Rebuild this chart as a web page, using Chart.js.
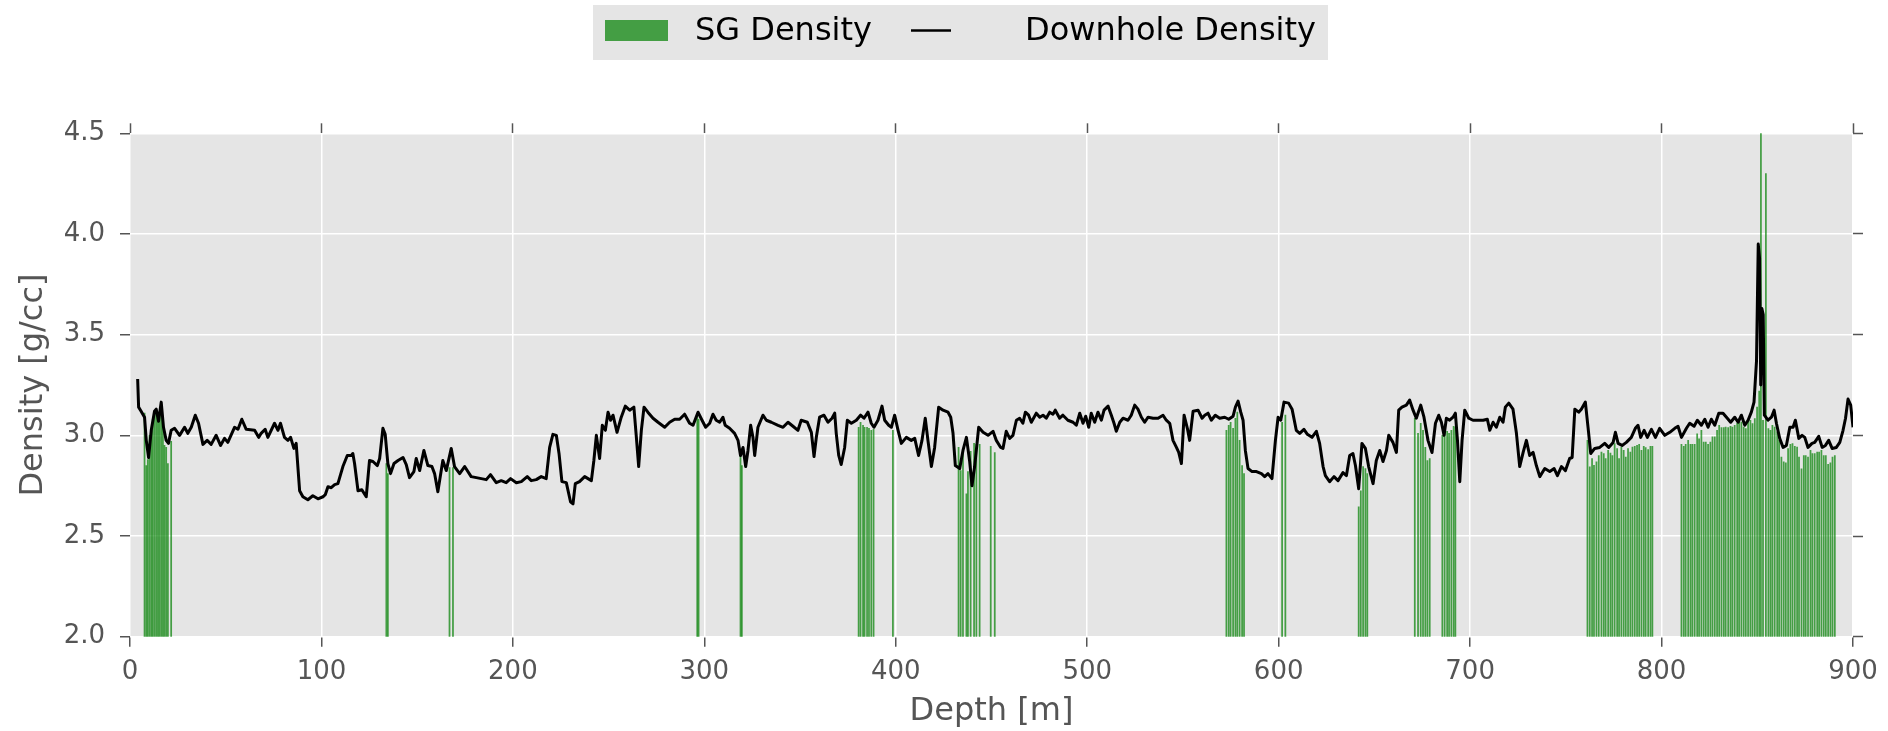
<!DOCTYPE html>
<html>
<head>
<meta charset="utf-8">
<title>SG Density vs Downhole Density</title>
<script src="https://cdn.jsdelivr.net/npm/chart.js@4.4.1/dist/chart.umd.min.js"></script>
<style>
  html, body { margin: 0; padding: 0; background: #ffffff; }
  #chartDensity { display: block; }
</style>
</head>
<body>
<canvas id="chartDensity" width="1888" height="731"></canvas>
<script>
// Downhole density log (depth in m, density in g/cc)
const downholeDepth = [
    4, 4.5, 5.8, 7.6, 8.5, 9.7, 11.1, 12.8, 13.7, 14.9, 16.3, 17.5, 18.9, 20.1, 21.5, 23.3, 25.9, 28.5, 30.2, 32.0,
    34.1, 35.8, 38.1, 40.3, 42.4, 45.0, 47.3, 49.4, 51.1, 54.6, 56.4, 58.4, 60.7, 65.1, 67.2, 68.5, 70.6, 72.0, 75.5, 77.3,
    78.6, 80.7, 82.5, 83.9, 85.6, 86.8, 88.6, 90.3, 92.9, 95.5, 98.2, 100.8, 102.0, 103.4, 105.1, 106.9, 108.6, 111.2, 113.5, 115.6,
    116.4, 117.3, 119.1, 121.1, 123.4, 125.1, 126.9, 129.2, 130.4, 132.1, 133.3, 134.7, 136.1, 137.9, 140.0, 142.6, 144.3, 146.0, 148.3,
    149.5, 151.3, 153.5, 155.6, 157.7, 159.1, 160.8, 163.4, 165.2, 167.8, 169.5, 172.2, 174.8, 178.2, 180.9, 183.5, 186.1, 188.3, 191.3, 193.9,
    196.5, 198.8, 201.8, 204.4, 207.5, 209.6, 212.2, 214.8, 217.4, 219.2, 220.9, 222.7, 224.1, 225.6, 227.9, 230.1, 231.4, 232.6, 234.8, 237.5,
    241.0, 242.3, 243.6, 245.3, 246.7, 248.3, 249.7, 251.0, 252.3, 254.4, 256.6, 258.7, 261.0, 263.2, 264.5, 265.7, 267.1, 268.5, 270.5, 273.2,
    275.8, 279.3, 281.9, 284.5, 287.1, 289.7, 292.3, 294.1, 296.7, 298.8, 300.7, 302.8,
    304.5, 306.2, 308.0, 309.7, 310.9, 313.2, 315.8, 317.6, 318.9, 320.2, 321.6, 322.8, 324.2, 325.4, 326.3, 328.0, 330.6, 332.4, 335.0, 338.5,
    341.1, 343.7, 346.3, 348.9, 350.6, 353.8, 355.9, 357.3, 358.5, 360.2, 362.5, 364.6, 366.7, 368.1, 368.9, 370.2, 371.5, 373.3, 374.7, 376.8,
    379.4, 381.6, 383.4, 385.5, 387.2, 388.6, 390.7, 392.8, 394.2, 396.3, 397.7, 399.4, 401.2, 402.9, 405.5, 408.1, 409.9, 411.9, 413.7, 415.4,
    416.8, 418.6, 420.3, 422.4, 424.7, 427.3, 428.7, 429.9, 431.1, 433.4, 435.1, 436.9, 438.6, 439.8, 441.2, 443.3, 445.6, 448.2, 450.8, 452.5, 454.8,
    456.0, 457.7, 459.5, 461.2, 463.0, 464.7, 466.4, 467.7, 469.4, 470.8, 473.4, 475.2, 476.9, 478.6, 480.4, 482.1, 483.3, 485.6, 487.3, 489.9,
    492.6, 494.3, 496.1, 497.8, 499.2, 500.8, 502.1, 503.9, 505.6, 507.4, 508.8, 510.9, 512.6, 514.0, 515.2, 517.0, 518.7, 521.3, 523.0, 524.8,
    526.5, 528.3, 530.0, 531.8, 534.4, 537.0, 539.6, 541.3, 543.1, 544.8, 546.6, 547.8, 549.2, 550.6, 552.3, 553.5, 555.3, 557.9, 560.0, 561.4,
    563.1, 564.8, 566.9, 569.2, 571.8, 573.9, 576.2, 577.4, 578.8, 580.2, 581.4, 582.6, 584.0, 586.1, 588.4, 591.0, 592.7, 594.4, 596.5, 598.3,
    599.7, 601.1, 602.8,
    605.2, 607.0, 609.2, 611.0, 613.2, 615.0, 617.4, 619.7, 621.4, 623.2, 624.4, 626.6, 628.9, 631.0, 633.6, 635.4, 637.1, 638.8, 640.1, 641.8,
    643.5, 645.3, 647.0, 649.3, 651.0, 652.8, 654.5, 656.3, 657.5, 659.7, 661.5, 662.7, 664.4, 666.7, 668.4, 670.2, 671.9, 674.2, 675.9, 678.0,
    680.1, 681.9, 683.6, 685.0, 686.4, 687.6, 689.3, 691.1, 692.3, 693.4, 694.6, 695.8, 697.2, 699.3, 701.5, 704.2, 706.8, 709.0, 710.3, 712.0,
    713.7, 715.5, 717.2, 718.4, 720.2, 722.4, 724.2, 725.9, 727.7, 729.4, 731.1, 732.9, 734.6, 736.4, 739.0, 741.6, 743.9, 745.6, 747.7, 749.8,
    752.0, 753.3, 754.7, 756.7,
    758.1, 760.2, 761.6, 763.0, 765.1, 767.7, 770.3, 772.4, 774.7, 775.9, 777.3, 779.4, 781.6, 784.2, 786.3, 787.7, 789.1, 790.9, 792.6, 794.7,
    796.8, 799.0, 801.7, 804.3, 806.9, 808.6, 810.4, 813.0, 814.7, 817.0, 818.7, 820.8, 822.6, 824.3, 826.0, 827.8, 829.9, 832.1, 833.9, 836.1,
    838.2, 840.0, 841.7, 843.5, 845.2, 846.9, 848.3, 849.6, 850.5, 851.2, 851.8, 852.4, 853.1, 853.7, 855.6, 857.4, 858.8, 860.0, 861.7, 863.5,
    865.2, 867.0, 868.7, 869.9, 871.7, 873.4, 874.8, 876.5, 878.6, 880.0, 882.1, 883.9, 885.6, 887.3, 889.1, 891.3, 893.1, 894.8, 896.1, 897.4,
    898.8, 900
];
const downholeDensity = [
    3.28, 3.14, 3.12, 3.09, 2.975, 2.89, 3.025, 3.12, 3.13, 3.07, 3.165, 3.04, 2.975, 2.96, 3.025, 3.035, 3.0, 3.04, 3.01, 3.04,
    3.10, 3.06, 2.955, 2.975, 2.955, 3.0, 2.95, 2.985, 2.965, 3.04, 3.03, 3.08, 3.03, 3.025, 2.99, 3.01, 3.03, 2.99, 3.06, 3.025,
    3.06, 2.99, 2.975, 2.99, 2.935, 2.96, 2.725, 2.695, 2.68, 2.70, 2.685, 2.695, 2.705, 2.745, 2.74, 2.755, 2.76, 2.845, 2.90, 2.90,
    2.91, 2.86, 2.725, 2.73, 2.695, 2.875, 2.87, 2.85, 2.885, 3.035, 3.005, 2.86, 2.81, 2.86, 2.875, 2.89, 2.855, 2.79, 2.82,
    2.885, 2.825, 2.925, 2.85, 2.845, 2.81, 2.72, 2.875, 2.825, 2.935, 2.845, 2.81, 2.845, 2.795, 2.79, 2.785, 2.78, 2.805, 2.765, 2.775,
    2.765, 2.785, 2.765, 2.77, 2.795, 2.775, 2.78, 2.795, 2.785, 2.94, 3.005, 3.0, 2.91, 2.77, 2.765, 2.67, 2.66, 2.76, 2.77, 2.795,
    2.775, 2.875, 3.0, 2.885, 3.05, 3.025, 3.115, 3.075, 3.10, 3.015, 3.09, 3.145, 3.125, 3.14, 2.99, 2.845, 3.025, 3.14, 3.115, 3.085,
    3.065, 3.04, 3.065, 3.08, 3.08, 3.105, 3.06, 3.05, 3.115, 3.075, 3.04, 3.06,
    3.105, 3.075, 3.065, 3.09, 3.05, 3.035, 3.01, 2.975, 2.90, 2.94, 2.845, 2.925, 3.05, 2.99, 2.90, 3.04, 3.10, 3.075, 3.065, 3.05,
    3.04, 3.065, 3.045, 3.025, 3.075, 3.065, 3.015, 2.895, 2.99, 3.09, 3.10, 3.065, 3.085, 3.11, 3.01, 2.90, 2.855, 2.94, 3.075, 3.06,
    3.075, 3.10, 3.085, 3.115, 3.06, 3.04, 3.075, 3.145, 3.075, 3.05, 3.04, 3.10, 3.025, 2.96, 2.99, 2.975, 2.985, 2.90, 2.975, 3.085,
    2.975, 2.845, 2.94, 3.14, 3.125, 3.115, 3.09, 3.01, 2.85, 2.835, 2.925, 2.99, 2.87, 2.75, 2.845, 3.04, 3.015, 3.0, 3.02, 2.975, 2.94,
    2.935, 3.02, 2.985, 3.0, 3.075, 3.085, 3.06, 3.115, 3.10, 3.065, 3.11, 3.09, 3.10, 3.085, 3.115, 3.105, 3.125, 3.085, 3.10, 3.075,
    3.065, 3.05, 3.11, 3.06, 3.095, 3.04, 3.11, 3.065, 3.115, 3.075, 3.125, 3.145, 3.10, 3.06, 3.02, 3.065, 3.085, 3.075, 3.10, 3.15,
    3.13, 3.09, 3.065, 3.09, 3.085, 3.085, 3.10, 3.075, 3.06, 2.975, 2.94, 2.915, 2.86, 3.10, 3.035, 2.975, 3.12, 3.125, 3.085, 3.10,
    3.11, 3.075, 3.10, 3.085, 3.09, 3.08, 3.095, 3.14, 3.17, 3.115, 3.075, 2.925, 2.835, 2.82, 2.82, 2.81, 2.795, 2.81, 2.785, 2.975,
    3.09, 3.075, 3.165,
    3.16, 3.13, 3.025, 3.01, 3.03, 3.005, 2.99, 3.02, 2.96, 2.845, 2.80, 2.77, 2.795, 2.775, 2.815, 2.80, 2.90, 2.91, 2.85, 2.735,
    2.96, 2.935, 2.845, 2.76, 2.875, 2.925, 2.87, 2.925, 3.0, 2.965, 2.915, 3.125, 3.14, 3.15, 3.175, 3.125, 3.085, 3.15, 3.09, 2.975,
    2.915, 3.06, 3.10, 3.065, 3.0, 3.085, 3.075, 3.09, 3.11, 2.975, 2.77, 2.975, 3.125, 3.085, 3.075, 3.075, 3.075, 3.08, 3.025, 3.065,
    3.04, 3.09, 3.065, 3.14, 3.16, 3.13, 3.01, 2.845, 2.915, 2.975, 2.90, 2.915, 2.85, 2.795, 2.835, 2.82, 2.835, 2.80, 2.845, 2.825,
    2.885, 2.89, 3.13, 3.115,
    3.13, 3.165, 3.04, 2.91, 2.935, 2.94, 2.96, 2.94, 2.965, 3.015, 2.96, 2.95, 2.965, 2.99, 3.035, 3.05, 2.99, 3.025, 2.99, 3.03,
    2.99, 3.035, 3.0, 3.015, 3.035, 3.045, 2.99, 3.035, 3.06, 3.045, 3.075, 3.05, 3.08, 3.04, 3.08, 3.05, 3.11, 3.11, 3.09, 3.065,
    3.09, 3.065, 3.10, 3.05, 3.075, 3.115, 3.165, 3.37, 3.95, 3.88, 3.25, 3.63, 3.60, 3.10, 3.075, 3.09, 3.125, 3.06, 2.985, 2.94,
    2.95, 3.04, 3.04, 3.075, 2.985, 3.0, 2.99, 2.94, 2.96, 2.965, 2.995, 2.94, 2.95, 2.975, 2.935, 2.94, 2.965, 3.025, 3.085, 3.18,
    3.15, 3.04
];

// SG (specific gravity) samples
const sgDepth = [
    7.6, 8.5, 9.3, 10.2, 11.1, 11.9, 12.8, 13.7, 14.6, 15.4, 16.3, 17.2, 18.0, 18.9, 19.8, 21.5,
    133.9, 134.7, 166.9, 168.7, 296.3, 297.0, 318.9, 319.6,
    380.6, 381.6, 382.9, 383.7, 385.0, 386.0, 387.2, 388.4, 398.5,
    432.8, 433.9, 435.1, 436.9, 437.7, 439.1, 440.9, 442.1, 443.8, 449.6, 451.7,
    572.7, 573.9, 574.9, 576.2, 577.4, 578.4, 579.6, 580.9, 581.9, 601.8, 603.5,
    641.8, 642.9, 644.1, 645.3, 646.3,
    671.1, 672.8, 674.2, 675.4, 676.6, 677.7, 678.9,
    685.5, 686.7, 688.0, 689.0, 690.2, 691.4, 692.3,
    761.3, 762.5, 763.7, 764.7, 766.0, 767.2, 768.6, 769.8, 770.8, 772.1, 773.3, 774.3, 775.5, 776.8, 777.8,
    779.0, 780.2, 781.3, 782.5, 783.7, 784.8, 786.0, 787.2, 788.3, 789.5, 790.7, 791.7, 793.0, 794.2, 795.2,
    810.4, 811.6, 812.6, 813.9, 815.1, 816.1, 817.3, 818.6, 819.6, 820.8, 822.0, 823.1, 824.3, 825.5, 826.6,
    827.8, 829.0, 830.1, 831.3, 832.5, 833.5, 834.8, 836.0, 837.0, 838.2, 839.5, 840.5, 841.7, 842.9, 844.0,
    845.2, 846.4, 847.5, 848.7, 849.9, 851.0, 851.9, 853.0, 854.5, 855.8, 856.9, 857.9, 859.1, 860.4, 861.4,
    862.6, 863.8, 864.9, 866.1, 867.3, 868.4, 869.6, 870.8, 871.8, 873.1, 874.3, 875.3, 876.5, 877.8, 878.8,
    880.0, 881.3, 882.3, 883.5, 884.7, 885.8, 887.0, 888.2, 889.3, 890.5
];
const sgDensity = [
    3.11, 2.85, 2.88, 3.00, 3.02, 3.08, 3.10, 3.12, 3.07, 3.10, 3.12, 3.05, 2.95, 2.94, 2.86, 2.97,
    2.86, 2.81, 2.84, 2.84, 3.10, 3.08, 2.90, 2.85,
    3.04, 3.065, 3.05, 3.04, 3.04, 3.035, 3.025, 3.03, 3.025,
    2.94, 2.825, 2.925, 2.71, 2.82, 2.92, 2.96, 2.955, 2.955, 2.945, 2.915,
    3.025, 3.05, 3.065, 3.035, 3.085, 3.115, 2.975, 2.85, 2.81, 3.065, 3.10,
    2.645, 2.725, 2.845, 2.835, 2.81,
    3.085, 3.01, 3.06, 3.025, 2.94, 2.875, 2.885,
    3.0, 3.035, 3.02, 3.01, 3.025, 3.045, 3.04,
    2.975, 2.843, 2.884, 2.851, 2.868, 2.90, 2.917, 2.909, 2.884, 2.925, 2.912, 2.90, 2.959, 2.934, 2.884,
    2.942, 2.925, 2.892, 2.934, 2.917, 2.942, 2.945, 2.95, 2.955, 2.925, 2.945, 2.939, 2.929, 2.945, 2.945,
    2.955, 2.945, 2.955, 2.975, 2.955, 2.955, 2.955, 3.008, 2.983, 3.025, 2.967, 2.967, 2.955, 2.967, 2.992,
    2.992, 3.025, 3.05, 3.038, 3.038, 3.041, 3.038, 3.045, 3.041, 3.05, 3.061, 3.066, 3.066, 3.041, 3.033,
    3.075, 3.075, 3.058, 3.083, 3.14, 3.22, 4.5, 3.075, 4.3, 3.033, 3.025, 3.05, 3.041, 3.017, 2.975,
    2.892, 2.868, 2.863, 2.934, 2.955, 2.959, 2.945, 2.942, 2.892, 2.834, 2.90, 2.90, 2.892, 2.925, 2.909,
    2.909, 2.917, 2.917, 2.925, 2.90, 2.90, 2.856, 2.863, 2.892, 2.90
];

// Axis ticks
const depthTicks = [0, 100, 200, 300, 400, 500, 600, 700, 800, 900];
const densityTicks = [2.0, 2.5, 3.0, 3.5, 4.0, 4.5];

const tickGrey = '#555555';

// Grey panel behind the plot (ggplot look)
const plotBackground = {
    id: 'plotBackground',
    beforeDraw(chart) {
        const { ctx, chartArea } = chart;
        ctx.save();
        ctx.fillStyle = '#e5e5e5';
        ctx.fillRect(chartArea.left, chartArea.top, chartArea.right - chartArea.left, chartArea.bottom - chartArea.top);
        ctx.restore();
    }
};

// Legend drawn as a grey box above the plot
const topLegend = {
    id: 'topLegend',
    afterDraw(chart) {
        const ctx = chart.ctx;
        const sets = chart.data.datasets;
        ctx.save();
        ctx.fillStyle = '#e5e5e5';
        ctx.fillRect(593, 5, 735, 55);
        ctx.fillStyle = sets[1].backgroundColor;
        ctx.fillRect(605, 20, 63, 21);
        ctx.strokeStyle = sets[0].borderColor;
        ctx.lineWidth = 2.5;
        ctx.beginPath();
        ctx.moveTo(911, 30.5);
        ctx.lineTo(951, 30.5);
        ctx.stroke();
        ctx.fillStyle = '#000000';
        ctx.font = '32px "DejaVu Sans"';
        ctx.textBaseline = 'alphabetic';
        ctx.textAlign = 'left';
        ctx.fillText(sets[1].label, 695, 39.5);
        ctx.fillText(sets[0].label, 1025, 39.5);
        ctx.restore();
    }
};

function setTicks(list) {
    return function(scale) {
        scale.ticks = list.map(v => ({ value: v }));
    };
}

Chart.defaults.font.family = '"DejaVu Sans", sans-serif';

const ctx = document.getElementById('chartDensity').getContext('2d');
new Chart(ctx, {
    type: 'line',
    data: {
        datasets: [{
            type: 'line',
            label: 'Downhole Density',
            data: downholeDepth.map((d, i) => ({ x: d, y: downholeDensity[i] })),
            borderColor: '#000000',
            borderWidth: 3,
            borderJoinStyle: 'round',
            pointRadius: 0,
            tension: 0,
            fill: false,
            order: 0
        }, {
            type: 'bar',
            label: 'SG Density',
            data: sgDepth.map((d, i) => ({ x: d, y: sgDensity[i] })),
            backgroundColor: 'rgba(0, 128, 0, 0.7)',
            borderWidth: 0,
            barThickness: 1.1,
            grouped: false,
            order: 1
        }]
    },
    options: {
        responsive: false,
        animation: false,
        devicePixelRatio: 1,
        layout: {
            padding: { top: 123.3, left: 0, right: 0, bottom: 0 }
        },
        scales: {
            x: {
                type: 'linear',
                position: 'bottom',
                min: 0,
                max: 900,
                offset: false,
                afterBuildTicks: setTicks(depthTicks),
                afterFit: s => { s.height = 94.3; },
                ticks: {
                    color: tickGrey,
                    padding: 10,
                    maxRotation: 0,
                    font: { size: 26 }
                },
                grid: {
                    color: '#ffffff',
                    lineWidth: 1.5,
                    offset: false,
                    tickColor: tickGrey,
                    tickLength: 10,
                    tickWidth: 1.5
                },
                border: { display: false },
                title: {
                    display: true,
                    text: 'Depth [m]',
                    color: tickGrey,
                    font: { size: 32 },
                    padding: { top: 0, bottom: 0 }
                }
            },
            xTop: {
                type: 'linear',
                position: 'top',
                display: true,
                min: 0,
                max: 900,
                afterBuildTicks: setTicks(depthTicks),
                afterFit: s => { s.height = 10; },
                ticks: { display: false },
                grid: {
                    drawOnChartArea: false,
                    tickColor: tickGrey,
                    tickLength: 10,
                    tickWidth: 1.5
                },
                border: { display: false }
            },
            y: {
                type: 'linear',
                position: 'left',
                min: 2,
                max: 4.5,
                beginAtZero: false,
                afterBuildTicks: setTicks(densityTicks),
                afterFit: s => { s.width = 130; },
                ticks: {
                    color: tickGrey,
                    padding: 15,
                    font: { size: 26 },
                    callback: v => Number(v).toFixed(1)
                },
                grid: {
                    color: '#ffffff',
                    lineWidth: 1.5,
                    tickColor: tickGrey,
                    tickLength: 10,
                    tickWidth: 1.5
                },
                border: { display: false },
                title: {
                    display: true,
                    text: 'Density [g/cc]',
                    color: tickGrey,
                    font: { size: 32 },
                    padding: { top: 14, bottom: 0 }
                }
            },
            yRight: {
                type: 'linear',
                position: 'right',
                display: true,
                min: 2,
                max: 4.5,
                afterBuildTicks: setTicks(densityTicks),
                afterFit: s => { s.width = 35; },
                ticks: { display: false },
                grid: {
                    drawOnChartArea: false,
                    tickColor: tickGrey,
                    tickLength: 10,
                    tickWidth: 1.5
                },
                border: { display: false }
            }
        },
        plugins: {
            legend: { display: false },
            tooltip: { enabled: false }
        }
    },
    plugins: [plotBackground, topLegend]
});
</script>
</body>
</html>
